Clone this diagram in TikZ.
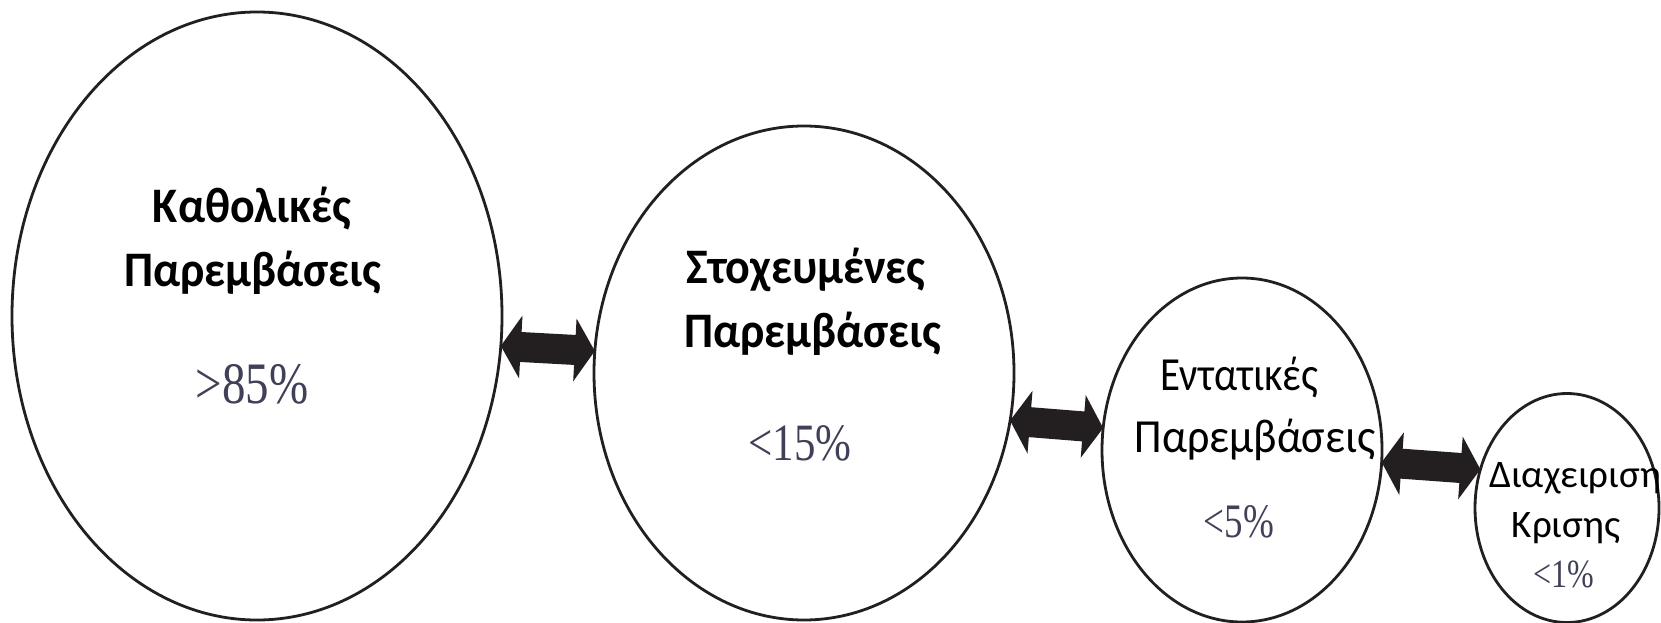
\documentclass[tikz,border=0pt]{standalone}
\usepackage{fontspec}
\usepackage{graphicx}
\setmainfont{Carlito}
\newfontfamily\pctfont{Liberation Serif}
\usetikzlibrary{shapes.geometric,arrows.meta}
\definecolor{ink}{HTML}{231F20}
\definecolor{pct}{HTML}{404058}
\tikzset{
  bubble/.style={draw=ink, line width=2.8pt, ellipse, inner sep=0pt, outer sep=0pt},
  lbl/.style={anchor=base, inner sep=0pt, text=black},
  pcttext/.style={anchor=base, inner sep=0pt, text=pct},
  dbl/.style={ink, line width=30pt, {Triangle[width=62pt,length=20pt]}-{Triangle[width=62pt,length=20pt]}}
}
\begin{document}
\begin{tikzpicture}[x=1pt,y=-1pt]
\useasboundingbox (0,0) rectangle (1661,623);
% bubbles
\node[bubble, minimum width=490pt, minimum height=608pt] (e1) at (257,316) {};
\node[bubble, minimum width=420pt, minimum height=494pt] (e2) at (804,373) {};
\node[bubble, minimum width=280pt, minimum height=344pt] (e3) at (1242,450) {};
\node[bubble, minimum width=184pt, minimum height=229pt] (e4) at (1567,508) {};
% texts
\node[lbl] (t1a) at (252,222) {\fontsize{46}{46}\selectfont\bfseries\scalebox{1}[1.08]{Καθολικές}};
\node[lbl] (t1b) at (253,286) {\fontsize{46}{46}\selectfont\bfseries\scalebox{1}[1.08]{Παρεμβάσεις}};
\node[pcttext] (t1c) at (252,403) {\pctfont\fontsize{47}{47}\selectfont\scalebox{1}[1.25]{>85\%}};
\node[lbl] (t2a) at (806,283) {\fontsize{46}{46}\selectfont\bfseries\scalebox{1}[1.08]{Στοχευμένες}};
\node[lbl] (t2b) at (813,347) {\fontsize{46}{46}\selectfont\bfseries\scalebox{1}[1.08]{Παρεμβάσεις}};
\node[pcttext] (t2c) at (800,460) {\pctfont\fontsize{43}{43}\selectfont\scalebox{1}[1.22]{<15\%}};
\node[lbl] (t3a) at (1239,390) {\fontsize{44}{44}\selectfont\scalebox{0.93}[1.08]{Εντατικές}};
\node[lbl] (t3b) at (1255,452) {\fontsize{44}{44}\selectfont\scalebox{1}[1.08]{Παρεμβάσεις}};
\node[pcttext] (t3c) at (1239,537) {\pctfont\fontsize{37}{37}\selectfont\scalebox{1}[1.3]{<5\%}};
\node[lbl, anchor=base west] (t4a) at (1489,487) {\fontsize{39}{39}\selectfont Διαχειριση};
\node[lbl] (t4b) at (1566,537) {\fontsize{39}{39}\selectfont Κρισης};
\node[pcttext] (t4c) at (1564,587) {\pctfont\fontsize{32}{32}\selectfont\scalebox{1}[1.25]{<1\%}};
% connectors
\draw[dbl] (e1.-7) -- (e2.174.3);
\draw[dbl] (e2.-13.1) -- (e3.171);
\draw[dbl] (e3.-5.3) -- (e4.156.4);
\end{tikzpicture}
\end{document}
